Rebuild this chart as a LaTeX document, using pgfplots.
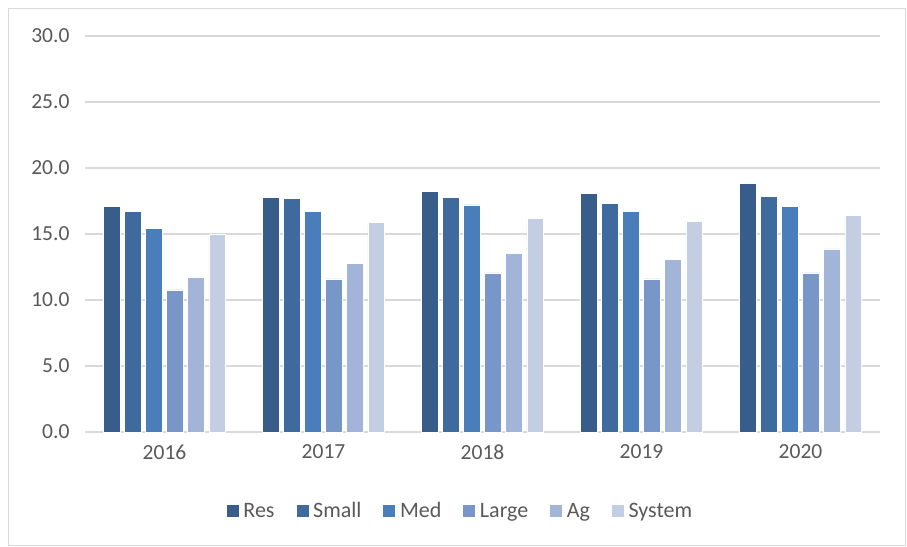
\documentclass[border=0pt]{standalone}
\usepackage{pgfplots}
\pgfplotsset{compat=1.18}
\usepackage{fontspec}
\setmainfont{Carlito}
\definecolor{cRes}{HTML}{385D8A}
\definecolor{cSmall}{HTML}{3F6A9D}
\definecolor{cMed}{HTML}{4A7EBB}
\definecolor{cLarge}{HTML}{7896C8}
\definecolor{cAg}{HTML}{A2B5D8}
\definecolor{cSys}{HTML}{C3CEE3}
\definecolor{gridc}{HTML}{D9D9D9}
\definecolor{txt}{HTML}{595959}
\begin{document}
\begin{tikzpicture}[x=1pt,y=1pt]
\useasboundingbox (0,0) rectangle (907,546);
\draw[gridc, line width=1.2pt] (8.5,0.5) rectangle (905.5,537.5);
\begin{axis}[
  at={(85pt,114pt)}, anchor=south west,
  scale only axis, width=795pt, height=396pt,
  ybar=4.3pt, bar width=16.8pt,
  xmin=-0.5, xmax=4.5, ymin=0, ymax=30,
  xtick={0,1,2,3,4}, xticklabels={2016,2017,2018,2019,2020},
  ytick={0,5,10,15,20,25,30},
  yticklabel style={/pgf/number format/fixed, /pgf/number format/fixed zerofill, /pgf/number format/precision=1, /pgf/number format/assume math mode=true, xshift=-12pt},
  ymajorgrids, grid style={gridc, line width=1.3pt},
  axis x line*=bottom, axis y line*=left,
  x axis line style={gridc, line width=1.3pt},
  y axis line style={draw=none},
  major tick length=0pt,
  tick label style={font=\fontsize{21.5}{25}\selectfont, text=txt},
  xticklabel style={yshift=-9pt},
  legend style={at={(0.4717,-0.1995)}, anchor=center, draw=none, fill=none,
    font=\fontsize{22}{25}\selectfont, text=txt, legend columns=6,
    /tikz/every even column/.append style={column sep=19pt},
    /tikz/every odd column/.append style={column sep=2pt}},
  legend image code/.code={\fill[#1] (0pt,-6.5pt) rectangle (13pt,6.5pt);},
  every axis plot/.append style={draw=white, line width=0.6pt},
]
\addplot[fill=cRes] coordinates {(0,17.1) (1,17.8) (2,18.2) (3,18.05) (4,18.85)};
\addplot[fill=cSmall] coordinates {(0,16.7) (1,17.67) (2,17.75) (3,17.3) (4,17.85)};
\addplot[fill=cMed] coordinates {(0,15.4) (1,16.7) (2,17.2) (3,16.7) (4,17.1)};
\addplot[fill=cLarge] coordinates {(0,10.76) (1,11.6) (2,12.05) (3,11.6) (4,12.05)};
\addplot[fill=cAg] coordinates {(0,11.7) (1,12.75) (2,13.5) (3,13.1) (4,13.87)};
\addplot[fill=cSys] coordinates {(0,15.0) (1,15.85) (2,16.2) (3,15.95) (4,16.38)};
\legend{Res,Small,Med,Large,Ag,System}
\end{axis}
\end{tikzpicture}
\end{document}
